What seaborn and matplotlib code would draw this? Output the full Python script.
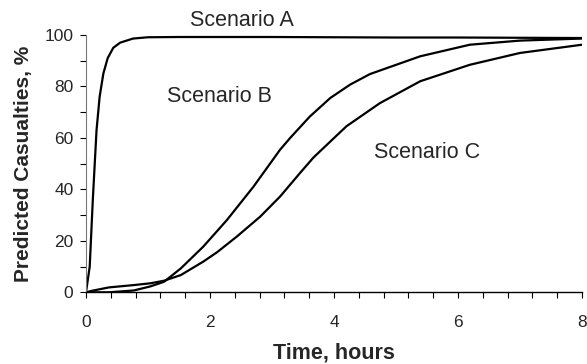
import numpy as np
import pandas as pd
import matplotlib
matplotlib.use("Agg")
import matplotlib.pyplot as plt
import seaborn as sns
from matplotlib.ticker import MultipleLocator

# ---- data ----
time_a = [0, 0.06, 0.11, 0.17, 0.22, 0.28, 0.35, 0.44, 0.55, 0.76, 1.0, 1.5, 2, 3, 4, 5, 6, 7, 8]
pct_a = [0, 10, 36, 63, 76, 85, 91, 95, 97, 98.6, 99.1, 99.2, 99.2, 99.2, 99.1, 99.0, 99.0, 98.9, 98.8]

time_b = [0, 0.37, 0.77, 1.04, 1.26, 1.53, 1.89, 2.27, 2.7, 3.13, 3.29, 3.61, 3.94, 4.26, 4.58, 5.39, 6.19, 7.0, 8.0]
pct_b = [0, 0, 0.7, 2.3, 4.1, 9.3, 17.7, 28, 41, 55.4, 59.9, 68.3, 75.5, 80.7, 84.8, 91.7, 96.2, 97.8, 98.6]

time_c = [0, 0.1, 0.37, 0.77, 1.04, 1.26, 1.53, 1.89, 2.11, 2.43, 2.81, 3.13, 3.45, 3.67, 4.2, 4.74, 5.39, 6.19, 7.0, 8.0]
pct_c = [0, 0.6, 1.9, 2.8, 3.5, 4.5, 6.7, 11.9, 15.5, 21.6, 29.4, 37.2, 46.3, 52.4, 64.5, 73.5, 82, 88.4, 93, 96.2]

scenarios = ["Scenario A", "Scenario B", "Scenario C"]
x_ticks = [0, 2, 4, 6, 8]
y_ticks = [0, 20, 40, 60, 80, 100]

df = pd.concat([
    pd.DataFrame({"Time": time_a, "Pct": pct_a, "Scenario": scenarios[0]}),
    pd.DataFrame({"Time": time_b, "Pct": pct_b, "Scenario": scenarios[1]}),
    pd.DataFrame({"Time": time_c, "Pct": pct_c, "Scenario": scenarios[2]}),
])

sns.set_theme(style="ticks")
plt.rcParams["font.family"] = ["Liberation Sans", "DejaVu Sans"]

fig = plt.figure(figsize=(5.87, 3.64), dpi=100)
ax = fig.add_axes([0.1465, 0.197, 0.845, 0.707])

sns.lineplot(data=df, x="Time", y="Pct", hue="Scenario", units="Scenario",
             estimator=None, sort=False, palette=["black"] * 3,
             linewidth=1.6, legend=False, ax=ax)
for line in ax.lines:
    line.set_solid_joinstyle("round")
    line.set_solid_capstyle("round")

ax.set_xlim(0, 8)
ax.set_ylim(0, 100)
ax.set_xticks(x_ticks)
ax.set_yticks(y_ticks)
ax.xaxis.set_minor_locator(MultipleLocator(0.4))
ax.yaxis.set_minor_locator(MultipleLocator(10))
ax.tick_params(axis="both", which="major", labelsize=12.5, length=4, width=0.8,
               color="black")
ax.tick_params(axis="both", which="minor", length=4, width=0.8, color="black")
ax.tick_params(axis="x", which="major", pad=12)
ax.tick_params(axis="y", which="major", pad=5)

sns.despine(ax=ax)
ax.spines["left"].set_color("#777777")
ax.spines["left"].set_linewidth(0.8)
ax.spines["bottom"].set_color("black")
ax.spines["bottom"].set_linewidth(1.0)

ax.set_xlabel("Time, hours", fontsize=15.5, fontweight="bold", labelpad=9)
ax.set_ylabel("Predicted Casualties, %", fontsize=15, fontweight="bold", labelpad=8)

ax.text(2.52, 105.8, scenarios[0], fontsize=15.5, ha="center", va="center", clip_on=False)
ax.text(2.16, 76, scenarios[1], fontsize=15.5, ha="center", va="center")
ax.text(5.5, 54.5, scenarios[2], fontsize=15.5, ha="center", va="center")

fig.savefig("out.png", dpi=100)
